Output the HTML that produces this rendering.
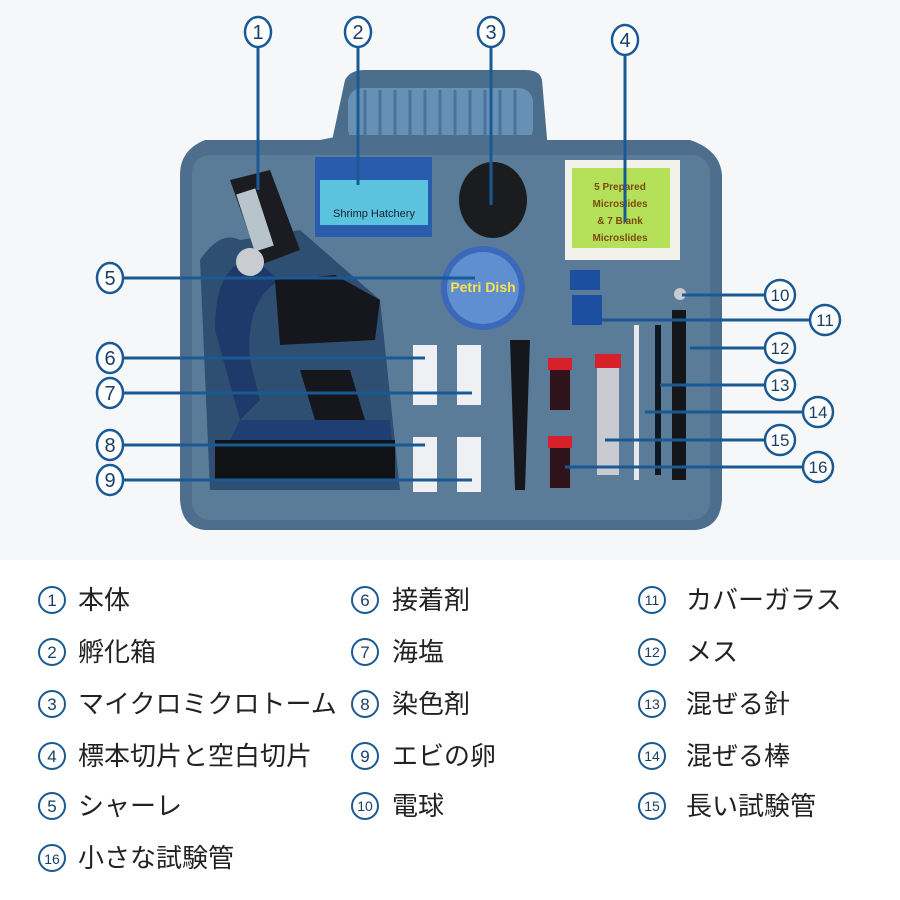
<!DOCTYPE html>
<html><head><meta charset="utf-8"><style>
body{margin:0;width:900px;height:900px;background:#fff;overflow:hidden;font-family:"Liberation Sans","Noto Sans CJK JP",sans-serif}
svg{display:block}
</style></head><body>
<svg width="900" height="900" viewBox="0 0 900 900" xmlns="http://www.w3.org/2000/svg">
<rect width="900" height="560" fill="#f6f7f9"/>
<!-- handle -->
<path d="M330 150 L345 80 Q350 70 365 70 L525 70 Q540 70 542 80 L548 150 Z" fill="#4a6d8c"/>
<rect x="348" y="88" width="185" height="55" rx="14" fill="#6790b5"/>
<g stroke="#4a74a0" stroke-width="3">
<line x1="365" y1="90" x2="365" y2="140"/><line x1="380" y1="90" x2="380" y2="140"/><line x1="395" y1="90" x2="395" y2="140"/><line x1="410" y1="90" x2="410" y2="140"/><line x1="425" y1="90" x2="425" y2="140"/><line x1="440" y1="90" x2="440" y2="140"/><line x1="455" y1="90" x2="455" y2="140"/><line x1="470" y1="90" x2="470" y2="140"/><line x1="485" y1="90" x2="485" y2="140"/><line x1="500" y1="90" x2="500" y2="140"/><line x1="515" y1="90" x2="515" y2="140"/>
</g>
<!-- case body -->
<path d="M180 175 Q180 150 205 140 L320 140 L345 135 L535 135 L545 140 L690 140 Q720 150 722 175 L722 500 Q720 528 695 530 L205 530 Q182 528 180 500 Z" fill="#4d6f8d"/>
<rect x="192" y="155" width="518" height="365" rx="18" fill="#5a7c99"/>
<!-- microscope recess -->
<path d="M200 260 Q220 230 240 240 L300 230 L380 300 L400 490 L210 490 Z" fill="#2f4f72"/>
<path d="M230 180 L270 170 L300 250 L260 265 Z" fill="#1a1c22"/>
<rect x="245" y="190" width="20" height="60" fill="#b8c4cc" transform="rotate(-18 255 220)"/>
<path d="M215 330 Q215 260 255 260 L280 280 Q245 300 250 360 L260 400 L240 420 Z" fill="#1e3a6a"/>
<circle cx="250" cy="262" r="14" fill="#c9ccd0"/>
<path d="M275 280 L335 275 L380 300 L375 340 L280 345 Z" fill="#15171c"/>
<path d="M300 370 L350 370 L365 420 L315 420 Z" fill="#15171c"/>
<path d="M240 420 L390 420 L395 470 L215 470 Z" fill="#1f3f72"/>
<path d="M215 440 L395 440 L395 480 L215 480 Z" fill="#101216"/>
<!-- shrimp hatchery -->
<rect x="315" y="157" width="117" height="80" fill="#2a5cae"/>
<rect x="320" y="180" width="108" height="45" fill="#5cc3de"/>
<text x="374" y="217" font-size="11" text-anchor="middle" fill="#123">Shrimp Hatchery</text>
<!-- knob 3 -->
<ellipse cx="493" cy="200" rx="34" ry="38" fill="#1b1c20"/>
<!-- slides box -->
<rect x="565" y="160" width="115" height="100" fill="#f2f2ea"/>
<rect x="572" y="168" width="98" height="80" fill="#b5e05a"/>
<text x="620" y="190" font-size="10" text-anchor="middle" fill="#7a4a10" font-weight="bold">5 Prepared</text>
<text x="620" y="207" font-size="10" text-anchor="middle" fill="#7a4a10" font-weight="bold">Microslides</text>
<text x="620" y="224" font-size="10" text-anchor="middle" fill="#7a4a10" font-weight="bold">&amp; 7 Blank</text>
<text x="620" y="241" font-size="10" text-anchor="middle" fill="#7a4a10" font-weight="bold">Microslides</text>
<!-- petri dish -->
<circle cx="483" cy="288" r="42" fill="#3b68b8"/>
<circle cx="483" cy="288" r="36" fill="#5f8fd0"/>
<text x="483" y="292" font-size="14" text-anchor="middle" fill="#ffe14a" font-weight="bold">Petri Dish</text>
<!-- small blue boxes -->
<rect x="570" y="270" width="30" height="20" fill="#1d4fa0"/>
<rect x="572" y="295" width="30" height="30" fill="#1d4fa0"/>
<!-- vials -->
<g fill="#eef0f3"><rect x="413" y="345" width="24" height="60"/><rect x="457" y="345" width="24" height="60"/><rect x="413" y="437" width="24" height="55"/><rect x="457" y="437" width="24" height="55"/></g>
<!-- tweezers -->
<path d="M510 340 L530 340 L525 490 L515 490 Z" fill="#15171c"/>
<!-- tubes -->
<rect x="550" y="360" width="20" height="50" fill="#30121a"/><rect x="548" y="358" width="24" height="12" fill="#d8202a"/>
<rect x="597" y="360" width="22" height="115" fill="#c8ccd2"/><rect x="595" y="354" width="26" height="14" fill="#d8202a"/>
<rect x="550" y="440" width="20" height="48" fill="#30121a"/><rect x="548" y="436" width="24" height="12" fill="#d8202a"/>
<rect x="634" y="325" width="5" height="155" fill="#e6e8ea"/>
<rect x="655" y="325" width="6" height="150" fill="#0f1820"/>
<rect x="672" y="310" width="14" height="170" fill="#141619"/>
<circle cx="680" cy="294" r="6" fill="#c7cbd0"/>
<!-- leader lines -->
<g stroke="#1a5a94" stroke-width="3" fill="none">
<line x1="258" y1="46" x2="258" y2="190"/>
<line x1="358" y1="46" x2="358" y2="185"/>
<line x1="491" y1="46" x2="491" y2="205"/>
<line x1="625" y1="54" x2="625" y2="222"/>
<line x1="124" y1="278" x2="475" y2="278"/>
<line x1="124" y1="358" x2="425" y2="358"/>
<line x1="124" y1="393" x2="472" y2="393"/>
<line x1="124" y1="445" x2="425" y2="445"/>
<line x1="124" y1="480" x2="472" y2="480"/>
<line x1="682" y1="295" x2="766" y2="295"/>
<line x1="602" y1="320" x2="810" y2="320"/>
<line x1="690" y1="348" x2="766" y2="348"/>
<line x1="660" y1="385" x2="766" y2="385"/>
<line x1="645" y1="412" x2="803" y2="412"/>
<line x1="605" y1="440" x2="766" y2="440"/>
<line x1="565" y1="467" x2="803" y2="467"/>
</g>
<g fill="#fff" stroke="#1a5a94" stroke-width="2.5">
<ellipse cx="258" cy="32" rx="13" ry="15"/><ellipse cx="358" cy="32" rx="13" ry="15"/><ellipse cx="491" cy="32" rx="13" ry="15"/><ellipse cx="625" cy="40" rx="13" ry="15"/>
<ellipse cx="110" cy="278" rx="13" ry="15"/><ellipse cx="110" cy="358" rx="13" ry="15"/><ellipse cx="110" cy="393" rx="13" ry="15"/><ellipse cx="110" cy="445" rx="13" ry="15"/><ellipse cx="110" cy="480" rx="13" ry="15"/>
<ellipse cx="780" cy="295" rx="15" ry="15"/><ellipse cx="825" cy="320" rx="15" ry="15"/><ellipse cx="780" cy="348" rx="15" ry="15"/><ellipse cx="780" cy="385" rx="15" ry="15"/><ellipse cx="818" cy="412" rx="15" ry="15"/><ellipse cx="780" cy="440" rx="15" ry="15"/><ellipse cx="818" cy="467" rx="15" ry="15"/>
</g>
<g fill="#1a3f66" font-size="20" text-anchor="middle">
<text x="258" y="39">1</text><text x="358" y="39">2</text><text x="491" y="39">3</text><text x="625" y="47">4</text>
<text x="110" y="285">5</text><text x="110" y="365">6</text><text x="110" y="400">7</text><text x="110" y="452">8</text><text x="110" y="487">9</text>
<g font-size="17"><text x="780" y="301">10</text><text x="825" y="326">11</text><text x="780" y="354">12</text><text x="780" y="391">13</text><text x="818" y="418">14</text><text x="780" y="446">15</text><text x="818" y="473">16</text></g>
</g>
<!-- legend -->
<g fill="none" stroke="#1a5a94" stroke-width="2">
<circle cx="52" cy="600" r="13"/><circle cx="52" cy="652" r="13"/><circle cx="52" cy="704" r="13"/><circle cx="52" cy="756" r="13"/><circle cx="52" cy="806" r="13"/><circle cx="52" cy="858" r="13"/>
<circle cx="365" cy="600" r="13"/><circle cx="365" cy="652" r="13"/><circle cx="365" cy="704" r="13"/><circle cx="365" cy="756" r="13"/><circle cx="365" cy="806" r="13"/>
<circle cx="652" cy="600" r="13"/><circle cx="652" cy="652" r="13"/><circle cx="652" cy="704" r="13"/><circle cx="652" cy="756" r="13"/><circle cx="652" cy="806" r="13"/>
</g>
<g fill="#1a3f66" font-size="17" text-anchor="middle">
<text x="52" y="606">1</text><text x="52" y="658">2</text><text x="52" y="710">3</text><text x="52" y="762">4</text><text x="52" y="812">5</text><text x="52" y="864" font-size="14">16</text>
<text x="365" y="606">6</text><text x="365" y="658">7</text><text x="365" y="710">8</text><text x="365" y="762">9</text><text x="365" y="811" font-size="14">10</text>
<g font-size="14"><text x="652" y="605">11</text><text x="652" y="657">12</text><text x="652" y="709">13</text><text x="652" y="761">14</text><text x="652" y="811">15</text></g>
</g>
<g fill="#222" font-size="26">
<text x="78" y="609">本体</text><text x="78" y="661">孵化箱</text><text x="78" y="713">マイクロミクロトーム</text><text x="78" y="765">標本切片と空白切片</text><text x="78" y="815">シャーレ</text><text x="78" y="867">小さな試験管</text>
<text x="392" y="609">接着剤</text><text x="392" y="661">海塩</text><text x="392" y="713">染色剤</text><text x="392" y="765">エビの卵</text><text x="392" y="815">電球</text>
<text x="686" y="609">カバーガラス</text><text x="686" y="661">メス</text><text x="686" y="713">混ぜる針</text><text x="686" y="765">混ぜる棒</text><text x="686" y="815">長い試験管</text>
</g>
</svg>
</body></html>
